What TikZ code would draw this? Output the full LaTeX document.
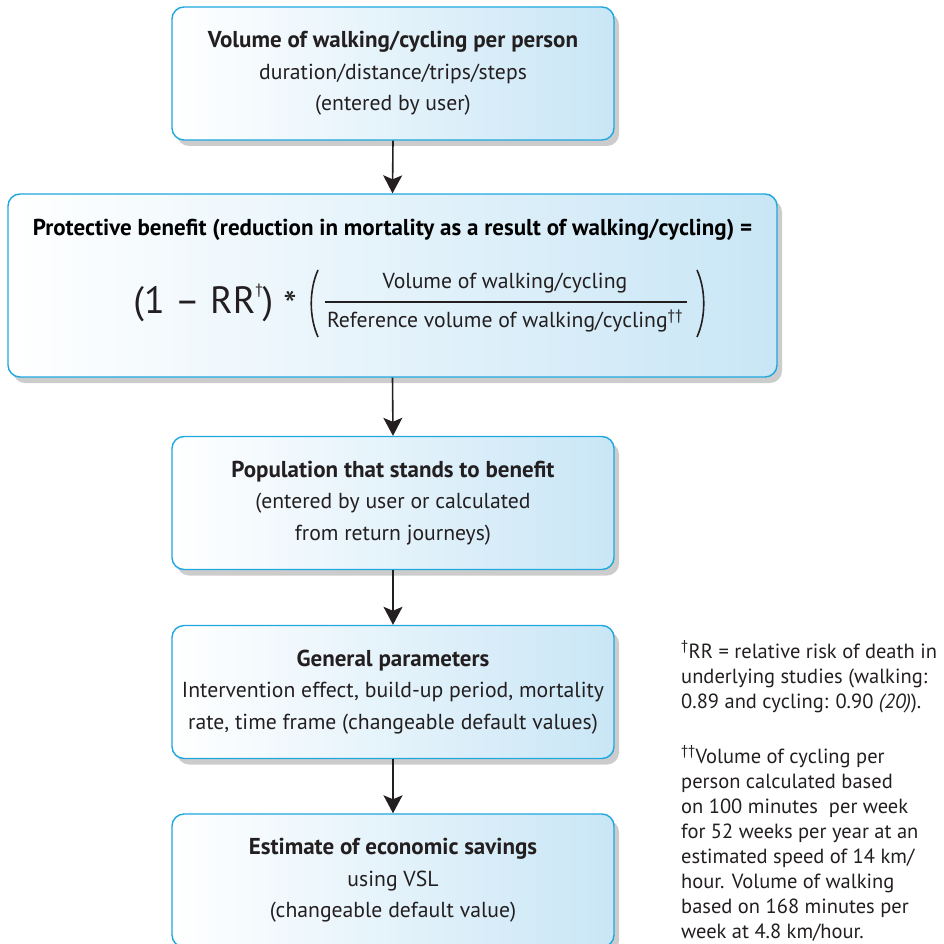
\documentclass[tikz,border=0pt]{standalone}
\usepackage{fontspec}
\setmainfont{PT Sans}
\usepackage{xcolor}
\usepackage{tikz}
\usetikzlibrary{arrows.meta,shadows}
\definecolor{rim}{HTML}{1FA8DF}
\definecolor{pale}{HTML}{C9E6F6}
\definecolor{ink}{HTML}{231F20}
\newcommand{\boxhead}{\fontsize{23}{31.5}\selectfont\bfseries}

\begin{document}
\begin{tikzpicture}[x=1pt,y=-1pt,
  box/.style={draw=rim, line width=1.4pt, rounded corners=12pt,
    left color=white, right color=pale, inner sep=0pt,
    minimum width=442pt, minimum height=133pt, align=center,
    drop shadow={shadow xshift=5pt, shadow yshift=-6pt, opacity=0.2, fill=black},
    text=ink, font=\fontsize{21.7}{31.5}\selectfont},
  arr/.style={-{Stealth[length=18pt,width=19pt,inset=4pt]}, line width=1.6pt, draw=ink},
  note/.style={anchor=base west, align=left, inner sep=0pt, text=ink,
    font=\fontsize{20.5}{25}\selectfont}]
\useasboundingbox (0,0) rectangle (943,944);

\node[box] (vol) at (393,73.5) {{\boxhead Volume of walking/cycling per person}\\
  duration/distance/trips/steps\\(entered by user)};
\node[box, minimum width=769pt, minimum height=183pt] (prot) at (392.5,285.5) {};
\node[text=black, font=\boxhead] (ptitle) at (392.5,230)
  {Protective benefit (reduction in mortality as a result of walking/cycling) =};
\node[text=ink, font=\fontsize{38}{44}\selectfont, anchor=east, inner sep=0pt] (rr) at (297,303)
  {(1 -- RR\raisebox{0.5em}{\fontsize{15}{15}\selectfont\dag}) \raisebox{-0.12em}{*}};
\node[text=ink, font=\fontsize{21.7}{24}\selectfont] (num) at (505,283) {Volume of walking/cycling};
\node[text=ink, font=\fontsize{21.7}{24}\selectfont] (den) at (505,321)
  {Reference volume of walking/cycling\textsuperscript{\dag\dag}};
\draw[ink, line width=1.4pt] (325,302) -- (687,302);
\draw[ink, line width=1.6pt] (318,270) .. controls (309,290) and (309,317) .. (318,337);
\draw[ink, line width=1.6pt] (697,270) .. controls (706,290) and (706,317) .. (697,337);

\node[box] (pop) at (393,503) {{\boxhead Population that stands to benefit}\\
  (entered by user or calculated\\from return journeys)};
\node[box] (gen) at (393,692) {{\boxhead General parameters}\\
  Intervention effect, build-up period, mortality\\
  rate, time frame (changeable default values)};
\node[box] (est) at (393,880.5) {{\boxhead Estimate of economic savings}\\
  using VSL\\(changeable default value)};

\foreach \a/\b in {vol/prot,prot/pop,pop/gen,gen/est}
  \draw[arr] (\a.south) -- (\b.north);

\node[note] (fnrr) at (681,708) {\textsuperscript{\dag}RR = relative risk of death in\\
  underlying studies (walking:\\0.89 and cycling: 0.90 \textit{(20)}).};
\node[note] (fnvol) at (681,938) {\textsuperscript{\dag\dag}Volume of cycling per\\
  person calculated based\\on 100 minutes~ per week\\for 52 weeks per year at an\\
  estimated speed of 14 km/\\hour. Volume of walking\\based on 168 minutes per\\
  week at 4.8 km/hour.};
\end{tikzpicture}
\end{document}
